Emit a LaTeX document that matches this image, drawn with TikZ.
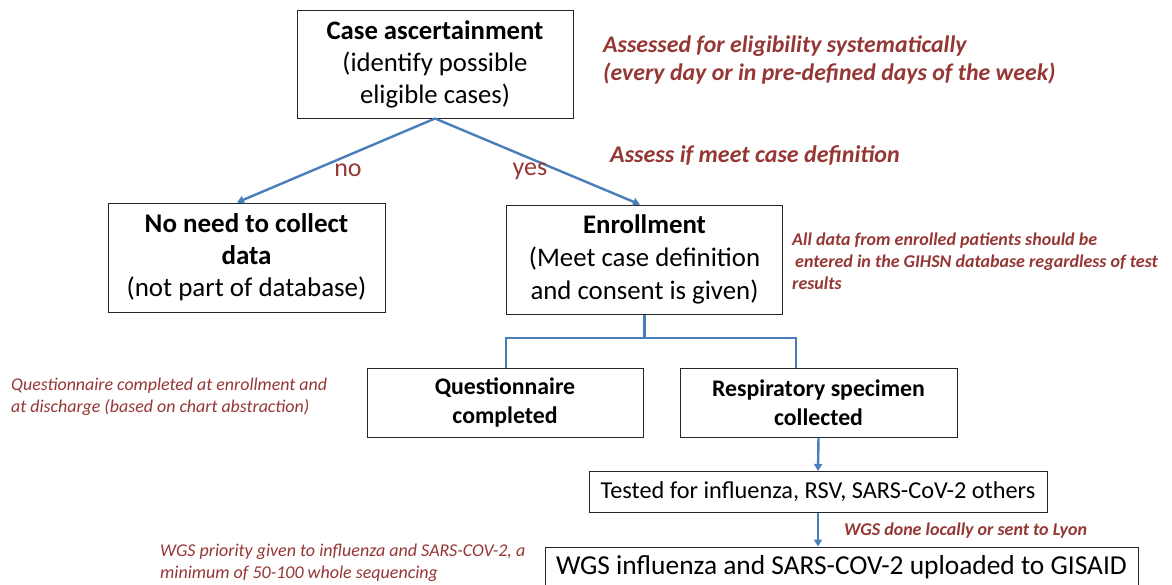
\documentclass[tikz,border=0pt]{standalone}
\usepackage{fontspec}
\setmainfont{Carlito}
\usetikzlibrary{arrows.meta,calc}
\definecolor{annred}{HTML}{953735}
\definecolor{linkblue}{HTML}{4A7EBB}
\newcommand{\fsz}[2]{\fontsize{#1}{#2}\selectfont}
\tikzset{
  box/.style={draw=black!85, line width=1pt, align=center, inner sep=0pt, text=black},
  link/.style={draw=linkblue, line width=2.4pt},
  arr/.style={link, -{Triangle[length=7pt,width=8pt]}},
  ann/.style={text=annred, align=left, anchor=west, inner sep=0pt},
}
\begin{document}
\begin{tikzpicture}[x=1pt,y=-1pt]
\useasboundingbox (0,0) rectangle (1172,584);
\clip (0,0) rectangle (1172,584);
\fill[white] (0,0) rectangle (1172,584);
% boxes
\node[box, minimum width=276, minimum height=108, font=\fsz{26.7}{32}] (case) at (435,64)
  {\textbf{Case ascertainment}\\(identify possible\\eligible cases)};
\node[box, minimum width=277, minimum height=109, font=\fsz{27}{32}] (nocoll) at (246.5,257.5)
  {\textbf{No need to collect}\\\textbf{data}\\(not part of database)};
\node[box, minimum width=276, minimum height=109, font=\fsz{26.8}{33}] (enroll) at (644.5,259.5)
  {\textbf{Enrollment}\\(Meet case definition\\and consent is given)};
\node[box, minimum width=276, minimum height=69, font=\fsz{23.8}{28.5}\bfseries] (quest) at (505,402.5)
  {Questionnaire\\completed};
\node[box, minimum width=277, minimum height=69, font=\fsz{23.8}{28.5}\bfseries] (resp) at (818.5,402.5)
  {Respiratory specimen\\collected};
\node[box, minimum width=458, minimum height=41, font=\fsz{24.3}{28}] (tested) at (818,492)
  {Tested for influenza, RSV, SARS-CoV-2 others};
\node[box, minimum width=593, minimum height=40, font=\fsz{27.4}{32}] (wgs) at (841.5,567)
  {WGS influenza and SARS-COV-2 uploaded to GISAID};
% connectors
\draw[arr] (case.south) -- ([xshift=-9.5pt]nocoll.north);
\draw[arr] (case.south) -- ([xshift=-4.5pt]enroll.north);
\coordinate (bl) at (506,338);
\coordinate (brr) at (796,338);
\draw[link] (enroll.south) -- (enroll.south |- bl);
\draw[link] (quest.north -| bl) -- (bl) -- (brr) -- (resp.north -| brr);
\draw[arr] (resp.south) -- (tested.north);
\draw[arr] (tested.south) -- (tested.south |- wgs.north);
% labels
\node[text=annred, font=\fsz{26}{30}] (nolab) at (348,170) {no};
\node[text=annred, font=\fsz{26}{30}] (yeslab) at (530,171) {yes};
% annotations
\node[ann, font=\fsz{23.8}{28}\bfseries\itshape] (a1) at (603,60)
  {Assessed for eligibility systematically\\(every day or in pre-defined days of the week)};
\node[ann, font=\fsz{24}{28}\bfseries\itshape] (a2) at (610,155)
  {Assess if meet case definition};
\node[ann, font=\fsz{18}{22}\bfseries\itshape] (a3) at (792,261)
  {All data from enrolled patients should be\\\hspace*{3pt}entered in the GIHSN database regardless of test\\results};
\node[ann, font=\fsz{17.9}{22.5}\itshape] (a4) at (11,397)
  {Questionnaire completed at enrollment and\\at discharge (based on chart abstraction)};
\node[ann, font=\fsz{18}{22.5}\itshape] (a5) at (160,563)
  {WGS priority given to influenza and SARS-COV-2, a\\minimum of 50-100 whole sequencing};
\node[ann, font=\fsz{18}{22}\bfseries\itshape] (a6) at (844,531)
  {WGS done locally or sent to Lyon};
\end{tikzpicture}
\end{document}
